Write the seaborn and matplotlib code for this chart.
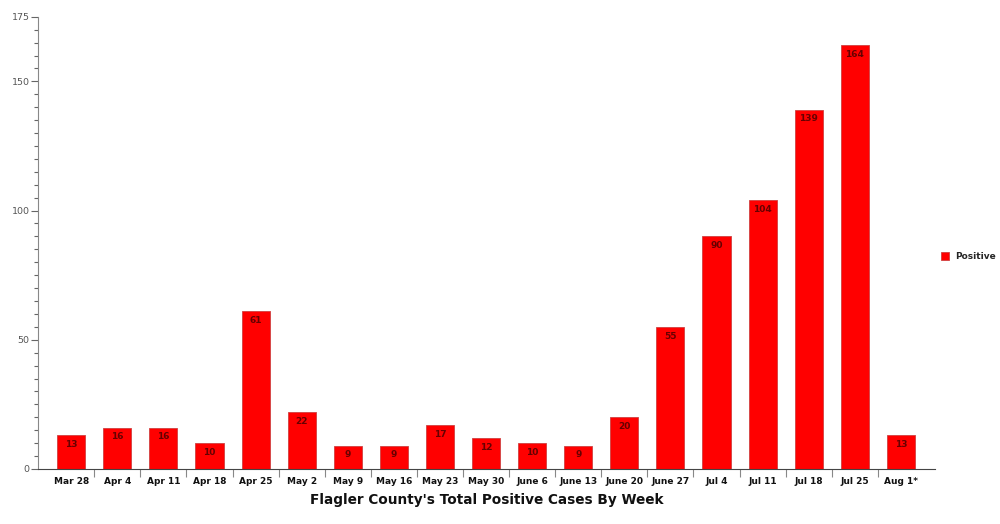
import matplotlib

matplotlib.use("Agg")
import matplotlib.pyplot as plt
import pandas as pd
import seaborn as sns
from matplotlib.ticker import MultipleLocator, FixedLocator

WEEKS = [
    "Mar 28", "Apr 4", "Apr 11", "Apr 18", "Apr 25", "May 2", "May 9",
    "May 16", "May 23", "May 30", "June 6", "June 13", "June 20",
    "June 27", "Jul 4", "Jul 11", "Jul 18", "Jul 25", "Aug 1*",
]
POSITIVE = [13, 16, 16, 10, 61, 22, 9, 9, 17, 12, 10, 9, 20, 55, 90, 104, 139, 164, 13]
SERIES = "Positive"
Y_TICKS = [0, 50, 100, 150, 175]
TITLE = "Flagler County's Total Positive Cases By Week"


def main() -> None:
    sns.set_style("white")
    plt.rcParams["font.family"] = ["Verdana", "DejaVu Sans"]

    df = pd.DataFrame({"week": WEEKS, "cases": POSITIVE, "series": SERIES})

    fig = plt.figure(figsize=(10, 5.24), dpi=100)
    ax = fig.add_axes([0.038, 0.105, 0.897, 0.863])

    sns.barplot(
        data=df,
        x="week",
        y="cases",
        hue="series",
        palette=["#ff0000"],
        width=0.61,
        edgecolor="#d04040",
        linewidth=0.6,
        saturation=1,
        ax=ax,
    )

    for bar, val in zip(ax.patches, POSITIVE):
        ax.text(
            bar.get_x() + bar.get_width() / 2,
            bar.get_height() - 1.8,
            str(val),
            ha="center",
            va="top",
            fontsize=6.5,
            fontweight="bold",
            color="#660000",
        )

    ax.set_xlim(-0.72, len(WEEKS) - 1 + 0.74)
    ax.set_ylim(0, 175)
    ax.yaxis.set_major_locator(FixedLocator(Y_TICKS))
    ax.yaxis.set_minor_locator(MultipleLocator(5))
    ax.tick_params(axis="y", which="major", length=5, width=0.8, color="#666666",
                   labelsize=6.8, labelcolor="#555555", pad=1, left=True)
    ax.tick_params(axis="y", which="minor", length=3, width=0.8, color="#666666", left=True)

    ax.xaxis.set_minor_locator(FixedLocator([i + 0.5 for i in range(len(WEEKS) - 1)]))
    ax.tick_params(axis="x", which="major", length=0, labelsize=6.5, pad=6,
                   labelcolor="#111111")
    ax.tick_params(axis="x", which="minor", length=6, width=0.8, color="#888888",
                   direction="out", bottom=True)
    for lbl in ax.get_xticklabels():
        lbl.set_fontweight("bold")

    for side in ["top", "right"]:
        ax.spines[side].set_visible(False)
    ax.spines["left"].set_color("#888888")
    ax.spines["bottom"].set_color("#444444")
    ax.spines["left"].set_linewidth(0.8)
    ax.spines["bottom"].set_linewidth(0.8)

    ax.set_ylabel("")
    ax.set_xlabel(TITLE, fontsize=9.8, fontweight="bold", labelpad=5, color="#111111")

    ax.legend(
        loc="center left",
        bbox_to_anchor=(0.998, 0.47),
        frameon=False,
        prop={"weight": "bold", "size": 6.5},
        handlelength=0.9,
        handleheight=0.9,
        handletextpad=0.6,
    )

    fig.savefig("out.png", dpi=100)
    plt.close(fig)


if __name__ == "__main__":
    main()
